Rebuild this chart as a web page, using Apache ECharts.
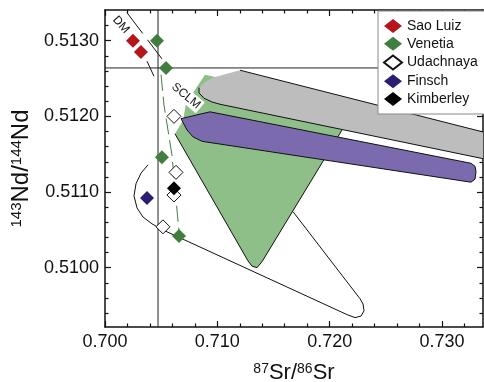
<!DOCTYPE html>
<html>
<head>
<meta charset="utf-8">
<script src="https://cdn.jsdelivr.net/npm/echarts@6/dist/echarts.min.js"></script>
<style>
html,body{margin:0;padding:0;background:#fff;}
#chart{width:484px;height:382px;}
</style>
</head>
<body>
<div id="chart"></div>
<script>
// ---- axis ticks ----
const srTicksMajor = [0.700, 0.710, 0.720, 0.730];
const srTicksMinor = [0.702, 0.704, 0.706, 0.708, 0.712, 0.714, 0.716, 0.718, 0.722, 0.724, 0.726, 0.728, 0.732];
const ndTicksMajor = [0.5100, 0.5110, 0.5120, 0.5130];
const ndTicksMinor = [0.5094, 0.5096, 0.5098, 0.5102, 0.5104, 0.5106, 0.5108, 0.5112, 0.5114, 0.5116, 0.5118, 0.5122, 0.5124, 0.5126, 0.5128, 0.5132];
const srRange = [0.700, 0.73365];
const ndRange = [0.509216, 0.513406];

// ---- sample data [87Sr/86Sr, 143Nd/144Nd] ----
const saoLuiz   = [[0.70249, 0.51300], [0.70320, 0.51285]];
const venetia   = [[0.70463, 0.51300], [0.70543, 0.51264], [0.70507, 0.51146], [0.70659, 0.51042]];
const udachnaya = [[0.70614, 0.51200], [0.70632, 0.51126], [0.70614, 0.51096], [0.70516, 0.51054]];
const finsch    = [[0.70374, 0.51092]];
const kimberley = [[0.70614, 0.51105]];

// ---- reference values (CHUR / UR) ----
const refNd = 0.51264;
const refSr = 0.70472;

// ---- fields ----
const openField = [[0.70383,0.51136],[0.70321,0.51125],[0.70276,0.51111],[0.70258,0.51095],[0.70285,0.51079],[0.70338,0.51067],[0.70418,0.51058],[0.70499,0.51051],[0.72154,0.50938],[0.72226,0.50934],[0.72279,0.50936],[0.72306,0.50943],[0.72297,0.50952],[0.72270,0.50959],[0.71674,0.51074]];
const greenField = [[0.70890,0.51255],[0.71200,0.51245],[0.72110,0.51182],[0.71398,0.51008],[0.71353,0.51000],[0.71309,0.51002],[0.71273,0.51009],[0.70623,0.51177],[0.70695,0.51195],[0.70721,0.51217]];
const greenEdge = [[0.72110,0.51182],[0.71398,0.51008],[0.71353,0.51000],[0.71309,0.51002],[0.71273,0.51009],[0.70623,0.51177]];
const grayField = [[0.71202,0.51261],[0.73694,0.51167],[0.73694,0.51134],[0.71024,0.51216],[0.70953,0.51219],[0.70881,0.51224],[0.70837,0.51231],[0.70837,0.51238],[0.70881,0.51244],[0.70953,0.51251]];
const grayEdgeTop = [[0.71202,0.51261],[0.73694,0.51167]];
const grayEdgeBottom = [[0.70837,0.51238],[0.70837,0.51231],[0.70881,0.51224],[0.70953,0.51219],[0.71024,0.51216],[0.73694,0.51134]];
const purpleField = [[0.70677,0.51197],[0.70935,0.51206],[0.73258,0.51138],[0.73294,0.51134],[0.73303,0.51127],[0.73294,0.51117],[0.73258,0.51113],[0.70864,0.51167],[0.70783,0.51173],[0.70730,0.51182]];
const dmLineA = [[0.70196,0.51337],[0.70507,0.51276]];
const dmLineB = [[0.70374,0.51273],[0.70436,0.51253]];
const venetiaTrend = [[0.70499,0.51255],[0.70525,0.51215],[0.70596,0.51149],[0.70659,0.51047]];

// ---- field labels ----
const fieldLabels = ['DM', 'SCLM'];
const fieldLabelSr = [0.70142, 0.70721];
const fieldLabelNd = [0.51321, 0.51227];
const fieldLabelAngle = [-48, -40];

const FONT = '"Liberation Sans", Arial, Helvetica, sans-serif';

function shape(points, kind, style, z) {
  return {
    type: 'custom', coordinateSystem: 'cartesian2d', clip: true, silent: true, z: z || 2,
    data: [[points[0][0], points[0][1]]],
    renderItem: function (params, api) {
      return {
        type: kind,
        shape: { points: points.map(function (p) { return api.coord(p); }) },
        style: style
      };
    }
  };
}

function xAxisDef(pos, ticks, len, showLabel, showLine) {
  return {
    type: 'value', position: pos, min: srRange[0], max: srRange[1],
    axisLine: { show: showLine, onZero: false, lineStyle: { color: '#111', width: 1.5 } },
    axisTick: { show: true, inside: true, length: len, customValues: ticks, lineStyle: { color: '#111', width: 1.2 } },
    axisLabel: showLabel ? { show: true, customValues: ticks, formatter: function (v) { return v.toFixed(3); }, fontFamily: FONT, fontSize: 18, color: '#111', margin: 6 } : { show: false },
    splitLine: { show: false }
  };
}
function yAxisDef(pos, ticks, len, showLabel, showLine) {
  return {
    type: 'value', position: pos, min: ndRange[0], max: ndRange[1],
    axisLine: { show: showLine, onZero: false, lineStyle: { color: '#111', width: 1.5 } },
    axisTick: { show: true, inside: true, length: len, customValues: ticks, lineStyle: { color: '#111', width: 1.2 } },
    axisLabel: showLabel ? { show: true, customValues: ticks, formatter: function (v) { return v.toFixed(4); }, fontFamily: FONT, fontSize: 18, color: '#111', margin: 6 } : { show: false },
    splitLine: { show: false }
  };
}

const xAxes = [
  xAxisDef('bottom', srTicksMajor, 6, true, true),
  xAxisDef('bottom', srTicksMinor, 3.5, false, false),
  xAxisDef('top', srTicksMajor, 6, false, true),
  xAxisDef('top', srTicksMinor, 3.5, false, false)
];
xAxes[0].name = '{s|87}{n|Sr/}{s|86}{n|Sr}';
xAxes[0].nameLocation = 'middle';
xAxes[0].nameGap = 35;
xAxes[0].nameTextStyle = { fontFamily: FONT, color: '#111', rich: {
  n: { fontSize: 22, fontFamily: FONT, color: '#111', verticalAlign: 'bottom' },
  s: { fontSize: 14, fontFamily: FONT, color: '#111', verticalAlign: 'top' } } };

const yAxes = [
  yAxisDef('left', ndTicksMajor, 6, true, true),
  yAxisDef('left', ndTicksMinor, 3.5, false, false),
  yAxisDef('right', ndTicksMajor, 6, false, true),
  yAxisDef('right', ndTicksMinor, 3.5, false, false)
];
yAxes[0].name = '{s|143}{n|Nd/}{s|144}{n|Nd}';
yAxes[0].nameLocation = 'middle';
yAxes[0].nameGap = 63;
yAxes[0].nameTextStyle = { fontFamily: FONT, color: '#111', rich: {
  n: { fontSize: 24, fontFamily: FONT, color: '#111', verticalAlign: 'bottom' },
  s: { fontSize: 15, fontFamily: FONT, color: '#111', verticalAlign: 'top' } } };

const series = [
  shape(openField, 'polyline', { fill: 'none', stroke: '#111', lineWidth: 1 }, 1),
  shape(greenField, 'polygon', { fill: '#8fbf88', stroke: 'none' }, 2),
  shape(greenEdge, 'polyline', { fill: 'none', stroke: '#111', lineWidth: 1 }, 2),
  shape(grayField, 'polygon', { fill: '#bdbdbd', stroke: 'none' }, 3),
  shape(grayEdgeTop, 'polyline', { fill: 'none', stroke: '#111', lineWidth: 1 }, 3),
  shape(grayEdgeBottom, 'polyline', { fill: 'none', stroke: '#111', lineWidth: 1 }, 3),
  shape(purpleField, 'polygon', { fill: '#7b6aad', stroke: '#111', lineWidth: 1 }, 3),
  shape(dmLineA, 'polyline', { fill: 'none', stroke: '#111', lineWidth: 1, lineDash: [26, 8] }, 4),
  shape(dmLineB, 'polyline', { fill: 'none', stroke: '#111', lineWidth: 1 }, 4),
  shape(venetiaTrend, 'polyline', { fill: 'none', stroke: '#3f7e3f', lineWidth: 1, lineDash: [16, 6] }, 4),
  shape([[srRange[0], refNd], [srRange[1], refNd]], 'polyline', { fill: 'none', stroke: '#222', lineWidth: 1 }, 4),
  shape([[refSr, ndRange[0]], [refSr, ndRange[1]]], 'polyline', { fill: 'none', stroke: '#222', lineWidth: 1 }, 4),
  {
    type: 'custom', coordinateSystem: 'cartesian2d', silent: true, z: 5,
    data: fieldLabels.map(function (t, i) { return [fieldLabelSr[i], fieldLabelNd[i]]; }),
    renderItem: function (params, api) {
      const p = api.coord([api.value(0), api.value(1)]);
      const i = params.dataIndex;
      return {
        type: 'text', x: p[0], y: p[1], rotation: fieldLabelAngle[i] * Math.PI / 180,
        style: { text: fieldLabels[i], font: '12px ' + FONT, fill: '#111', align: 'center', verticalAlign: 'middle',
          backgroundColor: i === 1 ? '#fff' : null, padding: [1, 2] }
      };
    }
  },
  { name: 'Sao Luiz', type: 'scatter', symbol: 'diamond', symbolSize: 14, z: 10, data: saoLuiz,
    itemStyle: { color: '#b5161c', opacity: 1 } },
  { name: 'Venetia', type: 'scatter', symbol: 'diamond', symbolSize: 14, z: 10, data: venetia,
    itemStyle: { color: '#3f7e3f', opacity: 1 } },
  { name: 'Udachnaya', type: 'scatter', symbol: 'diamond', symbolSize: 14, z: 10, data: udachnaya,
    itemStyle: { color: '#ffffff', borderColor: '#111', borderWidth: 1, opacity: 1 } },
  { name: 'Finsch', type: 'scatter', symbol: 'diamond', symbolSize: 14, z: 10, data: finsch,
    itemStyle: { color: '#2c1d6e', opacity: 1 } },
  { name: 'Kimberley', type: 'scatter', symbol: 'diamond', symbolSize: 14, z: 10, data: kimberley,
    itemStyle: { color: '#000000', opacity: 1 } }
];

const chart = echarts.init(document.getElementById('chart'), null, { renderer: 'canvas' });
chart.setOption({
  animation: false,
  backgroundColor: '#fff',
  grid: { left: 105, right: 1, top: 10, bottom: 55, containLabel: false, outerBoundsMode: 'none' },
  xAxis: xAxes,
  yAxis: yAxes,
  legend: {
    data: ['Sao Luiz', 'Venetia', 'Udachnaya', 'Finsch', 'Kimberley'],
    orient: 'vertical', left: 378, top: 11, padding: [8, 40, 8, 5],
    itemWidth: 18, itemHeight: 14, itemGap: 3.75, icon: 'diamond',
    backgroundColor: '#fff', borderColor: '#888', borderWidth: 1, z: 20,
    textStyle: { fontFamily: FONT, fontSize: 14, color: '#111' }
  },
  series: series
});
</script>
</body>
</html>
